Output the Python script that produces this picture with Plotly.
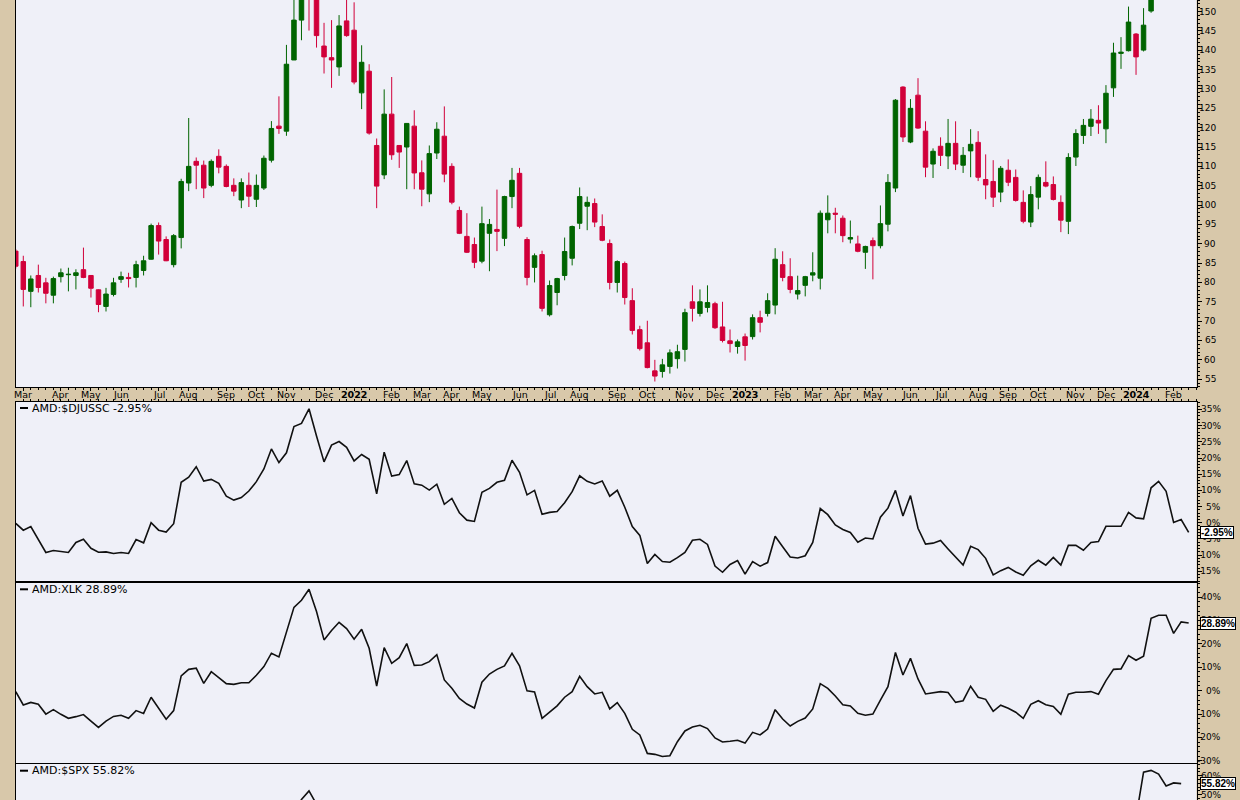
import plotly.graph_objects as go
import pandas as pd

# ---------------- data ----------------
weeks = pd.date_range("2021-02-22", periods=157, freq="7D")   # weekly bars (Monday of week)

price_open = [88.1, 85.4, 77.7, 81.8, 79.9, 76.7, 81.5, 82.0, 81.8, 83.3, 81.8, 78.1, 73.8, 76.9, 80.8, 81.3, 81.3, 83.1, 86.0, 94.7,
              91.1, 84.6, 91.6, 105.7, 111.3, 110.3, 105.1, 112.6, 110.0, 105.1, 101.3, 105.1, 101.5, 104.4, 111.6, 120.4, 119.1, 137.5, 147.8, 158.0,
              156.0, 141.1, 138.1, 135.7, 147.6, 145.2, 129.0, 134.6, 115.4, 107.8, 123.5, 115.4, 115.0, 120.4, 108.35, 102.9, 113.45, 117.8, 110.0, 98.6,
              91.9, 89.8, 85.5, 92.7, 93.7, 91.4, 102.2, 108.2, 91.1, 83.9, 87.2, 71.65, 77.4, 81.8, 86.25, 95.3, 99.7, 100.4, 94.45, 90.05,
              80.0, 84.9, 75.3, 67.8, 64.4, 57.15, 57.0, 58.3, 60.3, 62.7, 75.0, 72.0, 73.55, 74.5, 68.5, 64.9, 63.45, 65.95, 66.0, 70.9,
              72.0, 74.15, 84.6, 81.5, 77.0, 79.25, 81.9, 81.1, 96.2, 97.9, 96.6, 91.2, 89.95, 87.8, 90.8, 89.5, 95.05, 104.4, 130.5, 116.3,
              128.4, 119.1, 110.6, 115.2, 112.7, 115.95, 110.3, 114.0, 116.2, 106.6, 106.1, 103.35, 109.0, 107.15, 100.7, 95.6, 102.05, 105.85, 105.3, 100.7,
              95.8, 112.4, 118.0, 120.35, 121.9, 119.7, 130.3, 139.2, 139.9, 144.2, 140.05, 150.15, 176.5, 178.0, 171.0, 172.0, 178.0]
price_high = [88.6, 86.9, 81.8, 84.6, 81.2, 81.5, 83.6, 83.8, 83.4, 89.0, 81.9, 78.2, 78.6, 81.2, 82.8, 82.5, 85.6, 86.9, 95.2, 95.5,
              91.9, 92.5, 106.8, 122.5, 112.3, 111.5, 111.8, 114.4, 110.5, 106.9, 106.9, 108.4, 107.9, 112.8, 121.7, 128.1, 141.4, 155.0, 157.0, 161.0,
              164.0, 147.1, 147.8, 149.1, 154.5, 152.4, 141.3, 136.4, 117.2, 129.9, 133.1, 115.5, 121.2, 124.5, 111.55, 115.4, 121.4, 125.5, 110.8, 99.6,
              97.9, 91.6, 99.6, 96.4, 104.0, 102.4, 109.6, 109.6, 91.7, 87.5, 88.2, 80.5, 81.2, 91.6, 94.7, 104.55, 102.2, 101.7, 97.6, 91.1,
              85.7, 85.4, 78.5, 68.8, 70.1, 60.0, 60.25, 62.7, 63.9, 73.2, 79.25, 78.2, 79.25, 75.0, 75.0, 67.85, 65.25, 66.8, 71.75, 72.7,
              77.2, 88.85, 88.05, 86.25, 81.75, 81.7, 87.8, 98.6, 102.5, 99.3, 97.3, 96.0, 92.1, 89.5, 91.6, 99.9, 108.0, 127.4, 130.7, 127.4,
              132.8, 121.65, 114.65, 117.5, 122.25, 121.65, 115.0, 119.6, 119.1, 113.1, 111.6, 110.1, 111.8, 109.2, 103.8, 104.9, 107.9, 111.3, 107.4, 102.5,
              113.4, 119.6, 122.25, 124.8, 125.8, 131.0, 141.95, 143.4, 151.3, 144.45, 150.9, 176.0, 181.0, 180.0, 180.0, 184.0, 182.0]
price_low = [83.6, 73.8, 73.6, 77.4, 74.6, 74.6, 80.0, 77.7, 78.2, 81.1, 76.1, 72.3, 72.5, 76.4, 79.9, 78.7, 78.7, 81.8, 85.9, 87.2,
             85.5, 83.9, 88.8, 103.6, 104.1, 101.8, 104.6, 108.2, 104.6, 102.3, 99.2, 99.5, 99.5, 103.9, 111.0, 118.4, 117.9, 137.5, 142.6, 145.1,
             140.7, 134.0, 130.3, 133.4, 143.5, 131.2, 124.8, 118.2, 99.2, 106.7, 111.7, 109.6, 104.1, 104.1, 99.7, 100.75, 111.9, 105.9, 100.2, 92.5,
             87.6, 83.7, 84.95, 82.9, 88.1, 89.4, 99.2, 94.0, 79.25, 80.0, 72.5, 71.2, 74.1, 80.55, 84.4, 93.8, 93.5, 94.3, 90.65, 78.2,
             77.4, 74.3, 66.55, 62.4, 57.8, 54.4, 55.4, 56.45, 57.75, 59.55, 69.9, 71.2, 72.25, 68.0, 64.5, 61.9, 61.6, 59.8, 65.25, 67.1,
             71.2, 71.75, 80.3, 77.2, 75.6, 76.4, 80.3, 78.2, 92.7, 92.7, 90.4, 90.1, 87.8, 83.5, 80.8, 88.8, 93.2, 103.35, 116.3, 116.0,
             119.7, 107.2, 107.0, 110.1, 109.3, 109.05, 108.3, 107.2, 106.2, 101.5, 99.5, 100.75, 104.9, 100.9, 95.3, 94.3, 98.9, 104.6, 101.2, 93.0,
             92.5, 110.1, 115.8, 117.85, 118.4, 116.0, 127.95, 135.2, 139.7, 133.65, 139.7, 149.7, 168.0, 163.0, 166.0, 170.0, 164.0]
price_close = [84.2, 78.2, 80.9, 78.7, 77.2, 81.0, 82.5, 82.1, 82.5, 81.3, 78.5, 74.3, 77.0, 79.9, 81.5, 81.0, 84.6, 85.6, 94.7, 90.7,
               85.6, 92.1, 106.1, 110.0, 110.3, 104.4, 111.3, 109.8, 104.8, 103.6, 105.8, 102.3, 105.1, 112.1, 119.8, 119.8, 136.4, 147.8, 155.5, 156.0,
               143.8, 138.3, 137.5, 146.3, 143.8, 131.8, 136.9, 118.6, 104.9, 123.5, 113.0, 113.7, 121.1, 108.3, 104.1, 113.3, 119.6, 108.0, 100.75, 92.7,
               87.8, 85.2, 95.2, 95.0, 93.2, 102.2, 106.4, 94.5, 81.3, 86.9, 73.3, 79.2, 81.0, 88.0, 94.45, 102.2, 100.7, 95.6, 90.9, 80.0,
               85.4, 76.1, 67.6, 62.9, 58.0, 55.8, 58.7, 61.8, 62.1, 72.2, 73.3, 75.0, 74.8, 68.3, 65.0, 64.2, 64.65, 63.7, 70.9, 69.7,
               75.3, 86.0, 81.3, 78.2, 77.9, 81.5, 82.5, 97.9, 97.9, 97.65, 92.1, 91.6, 88.05, 89.3, 89.5, 95.2, 105.85, 127.1, 117.6, 125.0,
               119.9, 109.8, 113.9, 112.85, 115.95, 110.6, 112.85, 115.7, 107.2, 105.2, 102.05, 109.5, 105.9, 101.2, 95.8, 102.7, 107.15, 104.9, 101.45, 96.1,
               112.3, 118.5, 120.6, 122.2, 121.2, 128.9, 139.3, 139.5, 147.3, 138.3, 146.5, 174.2, 177.0, 170.0, 171.8, 180.0, 176.0]

rel_djussc = [-0.2, -2.3, -1.2, -5.1, -9.2, -8.6, -8.8, -9.2, -6.1, -5.1, -7.9, -9.1, -9.0, -9.5, -9.2, -9.5, -5.2, -6.2, 0.0, -2.3,
              -2.9, -0.3, 12.5, 14.1, 17.3, 12.9, 13.4, 12.2, 8.2, 7.0, 7.8, 9.8, 12.7, 16.6, 22.8, 18.6, 21.6, 29.7, 30.7, 35.2,
              26.8, 18.8, 24.0, 25.1, 23.3, 19.1, 21.1, 19.6, 8.9, 21.8, 14.4, 14.9, 19.2, 12.0,
              11.6, 10.1, 11.9, 5.7, 7.5, 3.1, 0.8, 0.4, 9.4, 10.6, 12.5, 13.1, 19.3, 15.6, 8.6, 10.0, 2.6, 3.2, 3.5, 6.2,
              9.6, 14.5, 12.8, 12.0, 12.9, 8.2, 10.0, 4.8, -1.2, -3.9, -12.6, -9.8, -12.0, -12.2, -10.8, -9.2, -5.4, -5.1, -6.7, -13.4,
              -15.3, -12.9, -11.7, -15.9, -12.0, -13.4, -12.3, -4.2, -7.4, -10.6, -10.9, -10.2, -6.1, 4.4, 2.5,
              -0.7, -2.1, -3.0, -6.0, -4.7, -5.0, 1.7, 4.5, 10.0, 2.1, 8.4, -1.7, -6.6, -6.3, -5.5, -8.1, -10.6, -13.1, -7.3, -8.3,
              -11.0, -16.1, -14.8, -13.8, -15.2, -16.2, -13.3, -11.6, -13.1, -10.7, -13.1, -7.0, -7.0, -8.5, -6.1, -5.8, -1.1, -1.1, -1.1, 3.2,
              1.5, 1.2, 10.8, 12.8, 9.7, 0.1, 1.0, -2.95]

rel_xlk = [-0.4, -6.1, -5.0, -5.8, -10.0, -8.1, -10.1, -11.8, -11.1, -10.2, -13.0, -15.7, -13.0, -11.0, -10.5, -11.8, -8.5, -9.7, -2.8, -7.5,
           -12.2, -8.5, 6.3, 9.1, 9.6, 3.1, 8.1, 5.6, 3.0, 2.7, 3.4, 3.4, 6.6, 10.3, 16.0, 14.4, 25.0, 35.6, 38.6, 43.3,
           33.8, 21.7, 25.7, 29.2, 26.5, 22.0, 26.2, 18.1, 2.0, 18.4, 11.7, 14.1, 20.1, 10.8,
           11.0, 12.4, 15.4, 4.6, 1.0, -3.3, -5.7, -7.4, 3.6, 7.1, 9.1, 10.6, 16.0, 10.6, -0.1, -0.6, -11.8, -9.2, -6.5, -2.8,
           -0.4, 6.1, 1.7, -1.4, -0.7, -7.8, -5.1, -9.7, -16.5, -18.9, -26.8, -27.2, -28.1, -27.8, -21.8, -17.2, -15.5, -14.8, -16.2, -20.2,
           -21.9, -21.6, -21.2, -22.4, -17.8, -18.9, -16.4, -8.1, -12.1, -15.1, -13.1, -11.7, -7.8, 3.0, 1.0,
           -2.3, -6.0, -6.5, -9.7, -10.5, -10.0, -4.0, 1.7, 16.3, 6.7, 13.8, 5.0, -1.4, -1.0, -0.4, -0.8, -5.0, -4.3, 1.9, -2.8,
           -3.7, -8.8, -6.2, -7.5, -9.2, -11.8, -5.8, -4.3, -6.0, -6.7, -10.1, -1.5, -0.7, -0.7, -0.4, -1.5, 4.3, 9.1, 9.3, 15.0,
           13.0, 14.7, 30.9, 32.2, 32.2, 24.5, 29.4, 28.89]

# AMD:$SPX - only the parts that rise into the visible strip of the bottom panel are readable
rel_spx = [None] * 37 + [40.0, 47.5, 52.0, 44.0, 38.0] + [None] * 106 + [36.0, 38.0, 61.9, 62.8, 60.9, 54.6, 56.2, 55.82]

month_ticks = ["2021-03-01", "2021-04-05", "2021-05-03", "2021-05-31", "2021-07-05", "2021-08-02", "2021-09-06",
               "2021-10-04", "2021-11-01", "2021-12-06", "2022-01-03", "2022-02-07", "2022-03-07", "2022-04-04",
               "2022-05-02", "2022-06-06", "2022-07-04", "2022-08-01", "2022-09-05", "2022-10-03", "2022-11-07",
               "2022-12-05", "2023-01-02", "2023-02-06", "2023-03-06", "2023-04-03", "2023-05-01", "2023-06-05",
               "2023-07-03", "2023-08-07", "2023-09-04", "2023-10-02", "2023-11-06", "2023-12-04", "2024-01-01",
               "2024-02-05"]
month_labels = ["Mar", "Apr", "May", "Jun", "Jul", "Aug", "Sep", "Oct", "Nov", "Dec", "<b>2022</b>", "Feb",
                "Mar", "Apr", "May", "Jun", "Jul", "Aug", "Sep", "Oct", "Nov", "Dec", "<b>2023</b>", "Feb",
                "Mar", "Apr", "May", "Jun", "Jul", "Aug", "Sep", "Oct", "Nov", "Dec", "<b>2024</b>", "Feb"]

price_ticks = [55, 60, 65, 70, 75, 80, 85, 90, 95, 100, 105, 110, 115, 120, 125, 130, 135, 140, 145, 150]
djussc_ticks = [-15, -10, -5, 0, 5, 10, 15, 20, 25, 30, 35]
xlk_ticks = [-30, -20, -10, 0, 10, 20, 30, 40]
spx_ticks = [50, 60]

panels = [
    ("AMD:$DJUSSC", rel_djussc, -2.95),
    ("AMD:XLK", rel_xlk, 28.89),
    ("AMD:$SPX", rel_spx, 55.82),
]

# ---------------- style ----------------
TAN = "#D8C8AA"
BG = "#EFF0F8"
GREEN = "#006400"
RED = "#D1003A"
FONT = "DejaVu Sans"
W, H = 1240, 800
XDOM = [16 / W, 1196.5 / W]
XRANGE = ["2021-02-22 05:00", "2024-02-26 07:00"]
DOM = {
    "y": [1 - 387.3 / H, 1.0],
    "y2": [1 - 582.3 / H, 1 - 401.7 / H],
    "y3": [1 - 763.0 / H, 1 - 582.3 / H],
    "y4": [0.0, 1 - 763.0 / H],
}

fig = go.Figure()
fig.add_trace(go.Candlestick(
    x=weeks, open=price_open, high=price_high, low=price_low, close=price_close,
    xaxis="x", yaxis="y", whiskerwidth=0, showlegend=False, hoverinfo="skip",
    increasing=dict(line=dict(color=GREEN, width=1), fillcolor=GREEN),
    decreasing=dict(line=dict(color=RED, width=1), fillcolor=RED),
))
for i, (name, vals, last) in enumerate(panels, start=2):
    fig.add_trace(go.Scatter(x=weeks, y=vals, xaxis=f"x{i}", yaxis=f"y{i}", mode="lines",
                             line=dict(color="#111111", width=1.6), showlegend=False,
                             hoverinfo="skip", connectgaps=False))

week_ms = 7 * 24 * 3600 * 1000
common_y = dict(side="right", showgrid=False, zeroline=False, showline=True, mirror=True,
                linecolor="black", linewidth=1, ticks="outside", ticklen=4, tickcolor="black",
                showticklabels=False)

layout = dict(
    width=W, height=H, margin=dict(l=0, r=0, t=0, b=0),
    paper_bgcolor=TAN, plot_bgcolor=BG, showlegend=False, boxgap=0.15,
    font=dict(family=FONT, color="black"),
    xaxis=dict(domain=XDOM, anchor="y", type="date", range=XRANGE, rangeslider=dict(visible=False),
               tickmode="array", tickvals=month_ticks, showticklabels=False,
               showgrid=False, zeroline=False, showline=True, linecolor="black", linewidth=1,
               ticks="outside", ticklen=3, tickcolor="black",
               minor=dict(ticks="outside", ticklen=2, tickcolor="black", dtick=week_ms, tick0="2021-03-01")),
    yaxis=dict(domain=DOM["y"], anchor="x", range=[52.9, 153.0], tickmode="array", tickvals=price_ticks,
               minor=dict(ticks="outside", ticklen=2, tickcolor="black", dtick=1), **common_y),
)
yranges = {2: [-18.4, 37.4], 3: [-30.9, 46.3], 4: [47.2, 66.7]}
yticks = {2: djussc_ticks, 3: xlk_ticks, 4: spx_ticks}
yminor = {2: 1, 3: 2, 4: 2}
for i in (2, 3, 4):
    layout[f"xaxis{i}"] = dict(domain=XDOM, anchor=f"y{i}", type="date", range=XRANGE, matches="x",
                               showticklabels=False, showgrid=False, zeroline=False,
                               showline=(i != 4), mirror=True, linecolor="black", linewidth=1,
                               side="top", ticks="outside" if i == 2 else "", ticklen=2, tickcolor="black",
                               tickmode="array", tickvals=month_ticks,
                               minor=dict(ticks="outside" if i == 2 else "", ticklen=2, tickcolor="black",
                                          dtick=week_ms, tick0="2021-03-01"))
    layout[f"yaxis{i}"] = dict(domain=DOM[f"y{i}"], anchor=f"x{i}", range=yranges[i], tickmode="array",
                               tickvals=yticks[i],
                               minor=dict(ticks="outside", ticklen=2, tickcolor="black", dtick=yminor[i]),
                               **common_y)
fig.update_layout(**layout)

annotations = []
# month / year labels in the date band
for d, lab in zip(month_ticks, month_labels):
    annotations.append(dict(x=d, xref="x", y=1 - 394.8 / H, yref="paper", text=lab, xanchor="center",
                            yanchor="middle", showarrow=False,
                            font=dict(family=FONT, size=9.5, color="black")))
# right-aligned axis labels
for v in price_ticks:
    annotations.append(dict(x=1217.5 / W, xref="paper", y=v, yref="y", text=str(v), xanchor="right",
                            yanchor="middle", showarrow=False, font=dict(family=FONT, size=9, color="black")))
for i in (2, 3, 4):
    for v in yticks[i]:
        annotations.append(dict(x=1222.5 / W, xref="paper", y=v, yref=f"y{i}", text=f"{v}%", xanchor="right",
                                yanchor="middle", showarrow=False,
                                font=dict(family=FONT, size=9, color="black")))
# panel titles and last-value tags
title_y = {2: 408.0, 3: 589.3, 4: 770.7}
shapes = []
for i, (name, vals, last) in enumerate(panels, start=2):
    annotations.append(dict(x=30 / W, xref="paper", y=1 - title_y[i] / H, yref="paper",
                            text=f"{name} {last:.2f}%", xanchor="left", yanchor="middle", showarrow=False,
                            font=dict(family=FONT, size=11, color="black")))
    shapes.append(dict(type="line", xref="paper", yref="paper", x0=20 / W, x1=28 / W,
                       y0=1 - title_y[i] / H, y1=1 - title_y[i] / H, line=dict(color="black", width=2)))
    annotations.append(dict(x=1199.5 / W, xref="paper", y=last, yref=f"y{i}", text=f"<b>{last:.2f}%</b>",
                            xanchor="left", yanchor="middle", showarrow=False, bgcolor="white",
                            bordercolor="black", borderwidth=1, borderpad=0,
                            font=dict(family="Liberation Sans", size=10, color="black")))
fig.update_layout(annotations=annotations, shapes=shapes)

fig.write_html("out.html", config={"displayModeBar": False},
               post_script="document.body.style.margin='0';document.body.style.overflow='hidden';")
